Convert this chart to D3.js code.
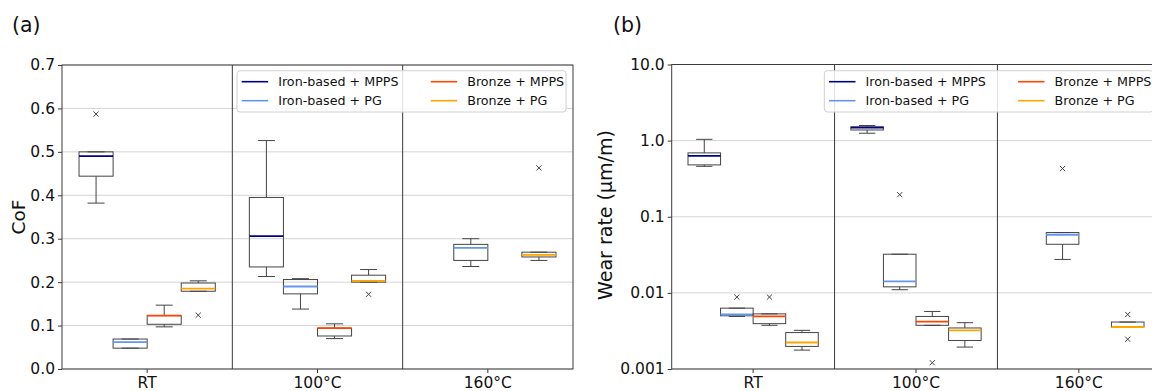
<!DOCTYPE html>
<html><head><meta charset="utf-8">
<script src="https://cdn.jsdelivr.net/npm/d3@7"></script>
<style>
html,body{margin:0;padding:0;background:#fff;}
svg{display:block;font-family:"DejaVu Sans",sans-serif;}
</style></head>
<body>
<svg id="chart" width="1152" height="391"></svg>
<script>
// ---------- DATA ----------
const groups = ["RT", "100°C", "160°C"];
const seriesNames = ["Iron-based + MPPS", "Iron-based + PG", "Bronze + MPPS", "Bronze + PG"];
const seriesColors = ["#00008B", "#6495ED", "#FF4500", "#FFA500"];
const seriesSlots = [-1.5, -0.5, 0.5, 1.5];

// CoF stats per series: [group, whiskerLow, q1, median, q3, whiskerHigh]
const cofIronMPPS   = [["RT", 0.382, 0.444, 0.490, 0.500, 0.500], ["100°C", 0.213, 0.235, 0.306, 0.395, 0.526]];
const cofIronPG     = [["RT", 0.048, 0.048, 0.062, 0.069, 0.069], ["100°C", 0.138, 0.173, 0.190, 0.206, 0.208], ["160°C", 0.236, 0.250, 0.279, 0.287, 0.300]];
const cofBronzeMPPS = [["RT", 0.097, 0.103, 0.123, 0.123, 0.147], ["100°C", 0.070, 0.076, 0.094, 0.094, 0.104]];
const cofBronzePG   = [["RT", 0.179, 0.179, 0.185, 0.198, 0.203], ["100°C", 0.200, 0.200, 0.203, 0.216, 0.229], ["160°C", 0.250, 0.258, 0.263, 0.269, 0.269]];
// CoF outliers: [series index, group, value]
const cofOutliers = [[0, "RT", 0.587], [3, "RT", 0.124], [3, "100°C", 0.172], [3, "160°C", 0.463]];
const cofTicks = [0.0, 0.1, 0.2, 0.3, 0.4, 0.5, 0.6, 0.7];

// Wear rate stats (µm/m)
const wearIronMPPS   = [["RT", 0.46, 0.48, 0.63, 0.69, 1.04], ["100°C", 1.25, 1.38, 1.48, 1.52, 1.58]];
const wearIronPG     = [["RT", 0.0049, 0.0050, 0.0052, 0.0063, 0.0063], ["100°C", 0.0110, 0.0120, 0.0142, 0.0322, 0.0322], ["160°C", 0.0275, 0.0435, 0.0580, 0.0620, 0.0620]];
const wearBronzeMPPS = [["RT", 0.00375, 0.00394, 0.0049, 0.0053, 0.0053], ["100°C", 0.00375, 0.00375, 0.0042, 0.0049, 0.0057]];
const wearBronzePG   = [["RT", 0.00177, 0.00198, 0.00223, 0.00301, 0.00322], ["100°C", 0.00194, 0.00237, 0.00322, 0.00346, 0.00406], ["160°C", 0.00356, 0.00356, 0.00356, 0.00414, 0.00414]];
const wearOutliers = [[1, "RT", 0.0088], [2, "RT", 0.0088], [1, "100°C", 0.195], [2, "100°C", 0.00121], [1, "160°C", 0.43], [3, "160°C", 0.0052], [3, "160°C", 0.00246]];
const wearTicks = [0.001, 0.01, 0.1, 1.0, 10.0];
const wearTickLabels = ["0.001", "0.01", "0.1", "1.0", "10.0"];

// ---------- DRAW ----------
const svg = d3.select("#chart");
const FONT = "DejaVu Sans";

function panel(opts) {
  const g = svg.append("g");
  const x = d3.scaleBand().domain(groups).range([opts.x0, opts.x1]).padding(0);
  const y = opts.y;
  const bw = x.bandwidth() / 5;
  const cx = (grp, slot) => x(grp) + x.bandwidth() / 2 + slot * bw;

  // grid
  g.selectAll(".grid").data(opts.ticks).enter().append("line")
    .attr("x1", opts.x0).attr("x2", opts.x1)
    .attr("y1", d => y(d)).attr("y2", d => y(d))
    .attr("stroke", "#d4d4d4").attr("stroke-width", 1);

  // group dividers
  g.selectAll(".div").data(groups.slice(1)).enter().append("line")
    .attr("x1", d => x(d)).attr("x2", d => x(d))
    .attr("y1", y.range()[1]).attr("y2", y.range()[0])
    .attr("stroke", "#3a3a3a").attr("stroke-width", 1);

  // boxes
  opts.series.forEach((ser, si) => {
    ser.forEach(([grp, wl, q1, med, q3, wh]) => {
      const c = cx(grp, seriesSlots[si]);
      const bg = g.append("g");
      bg.append("line").attr("x1", c).attr("x2", c).attr("y1", y(q1)).attr("y2", y(wl)).attr("stroke", "#444").attr("stroke-width", 1);
      bg.append("line").attr("x1", c).attr("x2", c).attr("y1", y(q3)).attr("y2", y(wh)).attr("stroke", "#444").attr("stroke-width", 1);
      [wl, wh].forEach(v => bg.append("line").attr("x1", c - bw / 4).attr("x2", c + bw / 4).attr("y1", y(v)).attr("y2", y(v)).attr("stroke", "#444").attr("stroke-width", 1));
      bg.append("rect").attr("x", c - bw / 2).attr("width", bw)
        .attr("y", y(q3)).attr("height", Math.max(0.5, y(q1) - y(q3)))
        .attr("fill", "none").attr("stroke", "#444").attr("stroke-width", 1);
      bg.append("line").attr("x1", c - bw / 2).attr("x2", c + bw / 2).attr("y1", y(med)).attr("y2", y(med))
        .attr("stroke", seriesColors[si]).attr("stroke-width", 1.8);
    });
  });

  // outliers
  const s = 2.6;
  opts.outliers.forEach(([si, grp, v]) => {
    const c = cx(grp, seriesSlots[si]), yy = y(v);
    g.append("path").attr("d", `M${c - s},${yy - s}L${c + s},${yy + s}M${c - s},${yy + s}L${c + s},${yy - s}`)
      .attr("stroke", "#444").attr("stroke-width", 1).attr("fill", "none");
  });

  // frame
  g.append("rect").attr("x", opts.x0).attr("y", y.range()[1]).attr("width", opts.x1 - opts.x0)
    .attr("height", y.range()[0] - y.range()[1]).attr("fill", "none").attr("stroke", "#3a3a3a").attr("stroke-width", 1);

  // y axis
  const ya = d3.axisLeft(y).tickValues(opts.ticks).tickFormat((d, i) => opts.tickLabels[i]).tickSize(4).tickPadding(3);
  const yg = g.append("g").attr("transform", `translate(${opts.x0},0)`).call(ya);
  yg.select(".domain").remove();
  yg.selectAll("line").attr("stroke", "#3a3a3a");
  yg.selectAll("text").attr("font-family", FONT).attr("font-size", 15.5).attr("fill", "#111");

  // x axis
  const xa = d3.axisBottom(x).tickSize(4).tickPadding(4);
  const xg = g.append("g").attr("transform", `translate(0,${y.range()[0]})`).call(xa);
  xg.select(".domain").remove();
  xg.selectAll("line").attr("stroke", "#3a3a3a");
  xg.selectAll("text").attr("font-family", FONT).attr("font-size", 15.5).attr("fill", "#111");

  // y label
  g.append("text").attr("transform", `translate(${opts.ylabX},${opts.ylabY}) rotate(-90)`)
    .attr("text-anchor", "middle").attr("font-family", FONT).attr("font-size", opts.ylabSize).attr("fill", "#111").text(opts.ylabel);

  // panel title
  g.append("text").attr("x", opts.titleX).attr("y", 31.5).attr("font-family", FONT).attr("font-size", 20.5).attr("fill", "#111").text(opts.title);

  // legend
  const lx = opts.legX, ly = 70.7;
  const lg = g.append("g");
  lg.append("rect").attr("x", lx).attr("y", ly).attr("width", 329).attr("height", 41.3).attr("rx", 3)
    .attr("fill", "#fff").attr("fill-opacity", 0.85).attr("stroke", "#d0d0d0").attr("stroke-width", 1);
  seriesNames.forEach((name, i) => {
    const col = Math.floor(i / 2), row = i % 2;
    const ex = lx + 4.7 + col * 189, ey = ly + 11 + row * 19;
    lg.append("line").attr("x1", ex).attr("x2", ex + 26.5).attr("y1", ey).attr("y2", ey).attr("stroke", seriesColors[i]).attr("stroke-width", 1.6);
    lg.append("text").attr("x", ex + 36.5).attr("y", ey + 4.6).attr("font-family", FONT).attr("font-size", 12.7).attr("fill", "#111").text(name);
  });
}

panel({
  x0: 62, x1: 573,
  y: d3.scaleLinear().domain([0, 0.7]).range([369, 65]),
  ticks: cofTicks, tickLabels: cofTicks.map(d => d.toFixed(1)),
  series: [cofIronMPPS, cofIronPG, cofBronzeMPPS, cofBronzePG],
  outliers: cofOutliers,
  ylabel: "CoF", ylabX: 25, ylabY: 217, ylabSize: 18.5,
  title: "(a)", titleX: 12,
  legX: 237
});

panel({
  x0: 671.7, x1: 1160.3,
  y: d3.scaleLog().domain([0.001, 10]).range([369, 64.5]),
  ticks: wearTicks, tickLabels: wearTickLabels,
  series: [wearIronMPPS, wearIronPG, wearBronzeMPPS, wearBronzePG],
  outliers: wearOutliers,
  ylabel: "Wear rate (μm/m)", ylabX: 612, ylabY: 215, ylabSize: 19,
  title: "(b)", titleX: 613,
  legX: 824.3
});
</script>
</body></html>
